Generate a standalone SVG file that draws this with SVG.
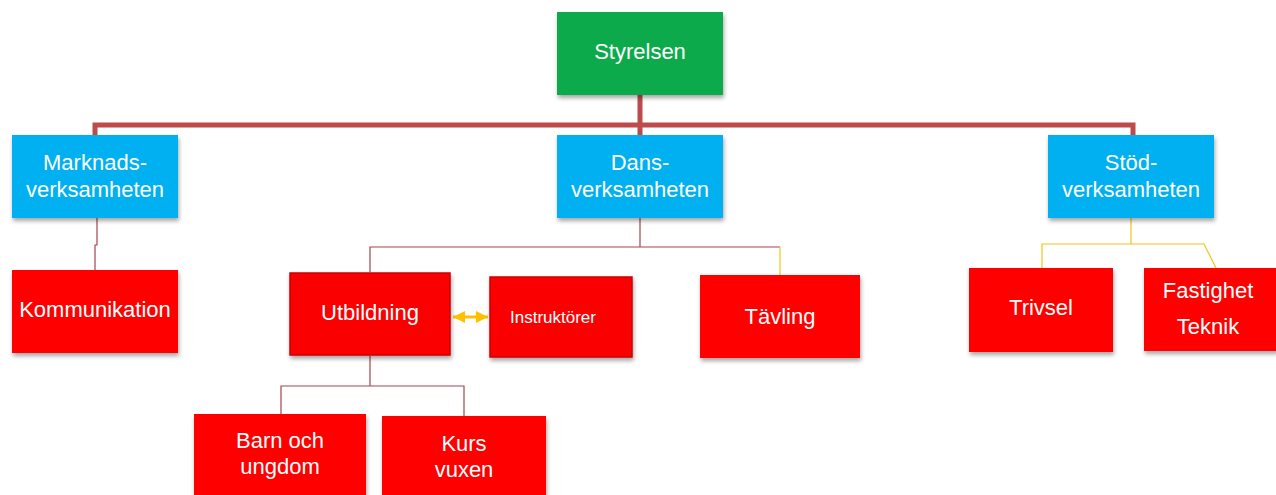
<svg xmlns="http://www.w3.org/2000/svg" width="1276" height="495" viewBox="0 0 1276 495">
<style>
.t{font-family:"Liberation Sans",Arial,sans-serif;font-size:22px;fill:#fff;text-anchor:middle}
.s{font-size:17px}
.red{fill:#fe0000}
.blue{fill:#00b0f0}
.green{fill:#0daa4b}
.bev{fill:#fb0000;stroke:#cc0000;stroke-width:1.5}
.thick{fill:none;stroke:#bd4b49;stroke-width:5}
.thin{fill:none;stroke:#a3464c;stroke-width:1.2}
.yel{fill:none;stroke:#f2c31a;stroke-width:1.2}
</style>
<defs>
<filter id="sh" x="-10%" y="-10%" width="125%" height="130%">
<feDropShadow dx="1" dy="3" stdDeviation="2" flood-color="#000" flood-opacity="0.35"/>
</filter>
<marker id="ah" viewBox="0 0 10 10" refX="10" refY="5" markerWidth="4" markerHeight="4" orient="auto-start-reverse">
<path d="M0,0 L10,5 L0,10 Z" fill="#ffc000"/>
</marker>
</defs>
<g id="connectors">
<path class="thick" d="M640,95 V135 M95,135 V125 H1133 V135"/>
<path class="thin" d="M97,218 V245 H95 V270"/>
<path class="thin" d="M640,218 V247 H370 V272 M640,247 H780"/>
<path class="yel" d="M780,247 V275"/>
<path class="thin" d="M370,356 V386 M281,414 V386 H464 V416"/>
<path class="yel" d="M1131,218 V244 M1042,268 V244 H1204 L1216,268"/>
<line x1="453" y1="317" x2="488" y2="317" stroke="#ffc000" stroke-width="3" marker-start="url(#ah)" marker-end="url(#ah)"/>
</g>
<g id="styrelsen"><rect x="557" y="12" width="166" height="83" class="green" filter="url(#sh)"/><text class="t" x="640" y="59">Styrelsen</text></g>
<g id="marknad"><rect x="12" y="135" width="166" height="83" class="blue" filter="url(#sh)"/><text class="t" x="95" y="170">Marknads-</text><text class="t" x="95" y="197">verksamheten</text></g>
<g id="dans"><rect x="557" y="135" width="166" height="83" class="blue" filter="url(#sh)"/><text class="t" x="640" y="170">Dans-</text><text class="t" x="640" y="197">verksamheten</text></g>
<g id="stod"><rect x="1048" y="135" width="166" height="83" class="blue" filter="url(#sh)"/><text class="t" x="1131" y="170">Stöd-</text><text class="t" x="1131" y="197">verksamheten</text></g>
<g id="kommunikation"><rect x="12" y="270" width="166" height="83" class="red" filter="url(#sh)"/><text class="t" x="95" y="317">Kommunikation</text></g>
<g id="utbildning"><rect x="290" y="273" width="160" height="82" class="bev" filter="url(#sh)"/><text class="t" x="370" y="320">Utbildning</text></g>
<g id="instruktorer"><rect x="490" y="277" width="142" height="80" class="bev" filter="url(#sh)"/><text class="t s" x="553" y="323">Instruktörer</text></g>
<g id="tavling"><rect x="700" y="275" width="160" height="83" class="red" filter="url(#sh)"/><text class="t" x="780" y="324">Tävling</text></g>
<g id="trivsel"><rect x="969" y="268" width="144" height="84" class="red" filter="url(#sh)"/><text class="t" x="1041" y="315">Trivsel</text></g>
<g id="fastighet"><rect x="1144" y="268" width="134" height="83" class="red" filter="url(#sh)"/><text class="t" x="1208" y="298">Fastighet</text><text class="t" x="1208" y="334">Teknik</text></g>
<g id="barn"><rect x="194" y="414" width="172" height="90" class="red" filter="url(#sh)"/><text class="t" x="280" y="448">Barn och</text><text class="t" x="280" y="474">ungdom</text></g>
<g id="kurs"><rect x="382" y="416" width="164" height="90" class="red" filter="url(#sh)"/><text class="t" x="464" y="451">Kurs</text><text class="t" x="464" y="477">vuxen</text></g>
</svg>
